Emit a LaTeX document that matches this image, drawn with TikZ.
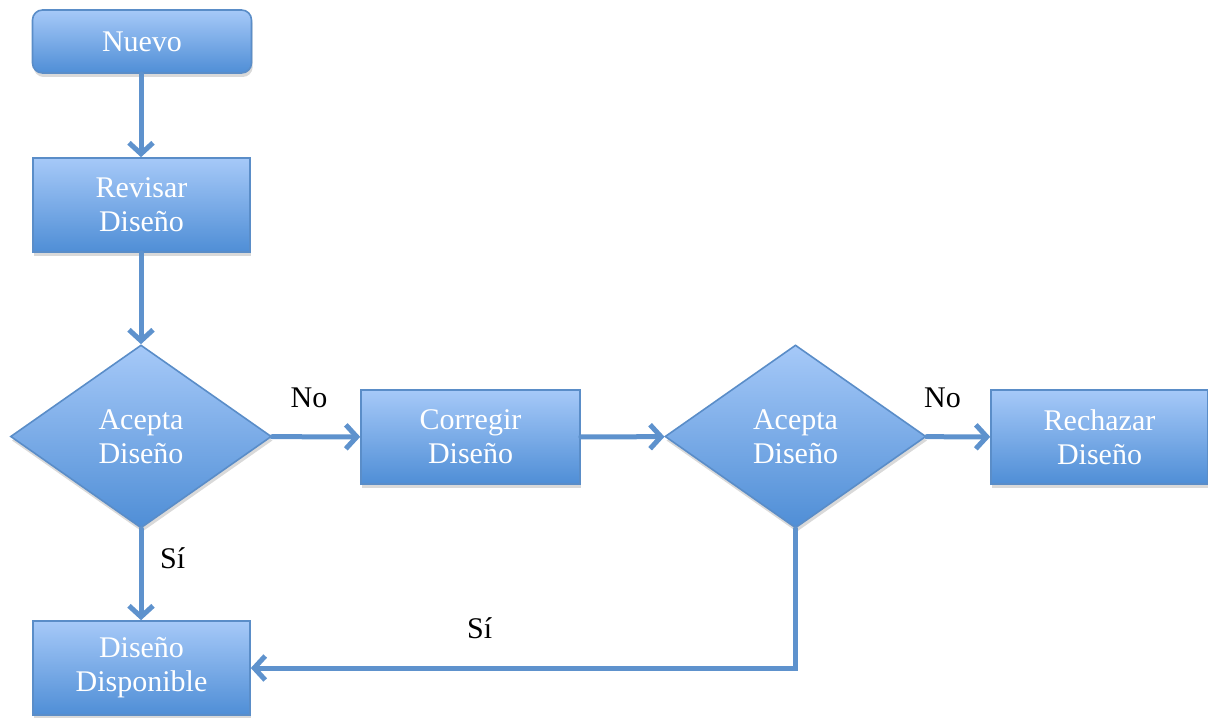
\documentclass[tikz,border=0pt]{standalone}
\usepackage{fontspec}
\setmainfont{Liberation Serif}
\usetikzlibrary{shapes.geometric, arrows.meta, shadows}

\definecolor{boxtop}{HTML}{A6C9F8}
\definecolor{boxbottom}{HTML}{4F8ED6}
\definecolor{boxline}{HTML}{5A8DC8}
\definecolor{flowline}{HTML}{5E92CD}

\tikzset{
	block/.style={rectangle, draw=boxline, line width=0.8pt, top color=boxtop, bottom color=boxbottom,
		text=white, align=center, font=\fontsize{15}{17}\selectfont, inner sep=1pt,
		minimum width=108.5pt, minimum height=47pt,
		drop shadow={opacity=0.3, shadow xshift=0.6pt, shadow yshift=-2pt}},
	startbox/.style={block, rounded corners=5pt, minimum width=109.5pt, minimum height=31.5pt},
	decision/.style={block, diamond, aspect=1.426, minimum width=130.5pt, minimum height=91.5pt},
	flow/.style={draw=flowline, line width=2.5pt, -{Straight Barb[length=5.5pt, width=12pt]}},
	answer/.style={font=\fontsize{15}{17}\selectfont, text=black},
}

\begin{document}
\begin{tikzpicture}[x=0.5pt, y=-0.5pt, line cap=round]
		\useasboundingbox (0,0) rectangle (1208,717);
		
		% Nodes
		\node[startbox] (nuevo) at (142,41.5) {Nuevo};
		\node[block] (revisar) at (141.5,205) {Revisar\\Diseño};
		\node[decision] (acepta1) at (141,436.5) {Acepta\\Diseño};
		\node[block, minimum width=109.5pt] (corregir) at (470.5,437) {Corregir\\Diseño};
		\node[decision] (acepta2) at (795.5,436.5) {Acepta\\Diseño};
		\node[block] (rechazar) at (1099.5,437) {Rechazar\\Diseño};
		\node[block] (disponible) at (141.5,668) {Diseño\\Disponible};
		
		% Arrows
		\draw[flow] (nuevo.south -| acepta1) -- (revisar.north -| acepta1);
		\draw[flow] (revisar.south -| acepta1) -- (acepta1);
		\draw[flow] (acepta1) -- (corregir) node[answer, pos=0.42, above=10pt] {No};
		\draw[flow] (corregir) -- (acepta2);
		\draw[flow] (acepta2) -- (rechazar) node[answer, pos=0.25, above=10pt] {No};
		\draw[flow] (acepta1) -- (disponible.north -| acepta1) node[answer, pos=0.32, right=5pt] {Sí};
		\draw[flow] (acepta2.south) |- (disponible.east) node[answer, pos=0.79, above=10pt] {Sí};
\end{tikzpicture}
\end{document}
